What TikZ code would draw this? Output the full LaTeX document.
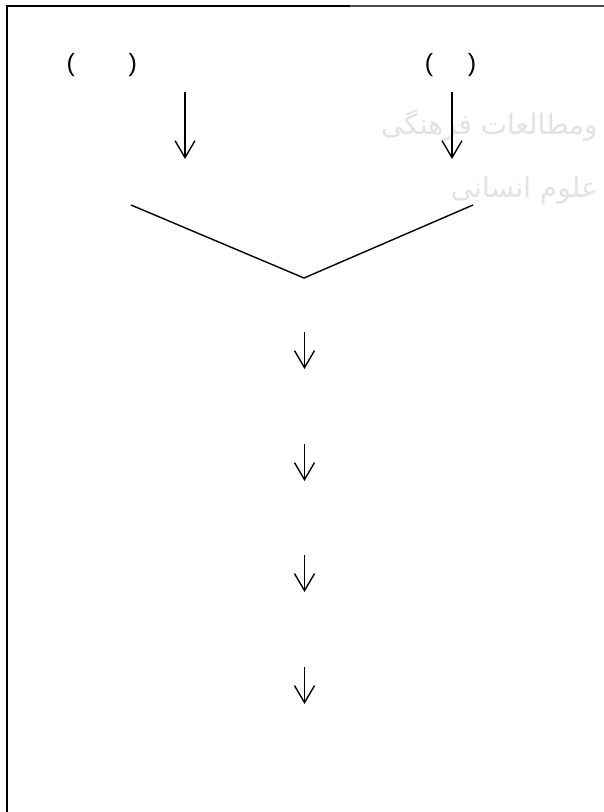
\documentclass[tikz,border=0pt]{standalone}
\usepackage{fontspec}
\setmainfont{Liberation Sans}
\newfontfamily\arabicfont[Script=Arabic]{DejaVu Sans}
\TeXXeTstate=1
\usetikzlibrary{arrows.meta}
\begin{document}
\begin{tikzpicture}[x=1pt,y=-1pt,
  paren/.style={font=\fontsize{25}{25}\selectfont, inner sep=0pt},
  flowline/.style={line width=1.4pt},
  flowarrow/.style={line width=1.4pt, -{Straight Barb[length=17pt,width=20pt,line width=1.4pt]}},
  watermark/.style={text=black!11, font=\arabicfont\fontsize{28}{28}\selectfont, inner sep=0pt, anchor=east}]
\useasboundingbox (0,0) rectangle (604,812);
\fill[white] (0,0) rectangle (604,812);
% watermark
\node[watermark] (wm1) at (598,125) {\beginR ومطالعات فرهنگی\endR};
\node[watermark] (wm2) at (598,190) {\beginR علوم انسانی\endR};
% frame
\draw[line width=2pt] (7,812) -- (7,6) -- (350,6);
\draw[line width=2pt, black!70] (350,6) -- (604,6);
% parentheses
\node[paren] (lp1) at (70.7,65) {(};
\node[paren] (rp1) at (132.7,65) {)};
\node[paren] (lp2) at (429,65) {(};
\node[paren] (rp2) at (472,65) {)};
% top arrows
\coordinate (a1s) at (185,92);
\coordinate (a1e) at (185,159);
\coordinate (a2s) at (452,92);
\coordinate (a2e) at (452,159);
\draw[flowarrow] (a1s) -- (a1e);
\draw[flowarrow] (a2s) -- (a2e);
% V shape
\coordinate (vl) at (131,205);
\coordinate (vb) at (304,278);
\coordinate (vr) at (473,205);
\draw[flowline] (vl) -- (vb) -- (vr);
% down arrows
\foreach \i/\y in {1/332,2/444,3/555,4/667}{
  \coordinate (d\i s) at (304.5,\y);
  \coordinate (d\i e) at (304.5,\y+37);
  \draw[flowarrow] (d\i s) -- (d\i e);
}
\end{tikzpicture}
\end{document}
